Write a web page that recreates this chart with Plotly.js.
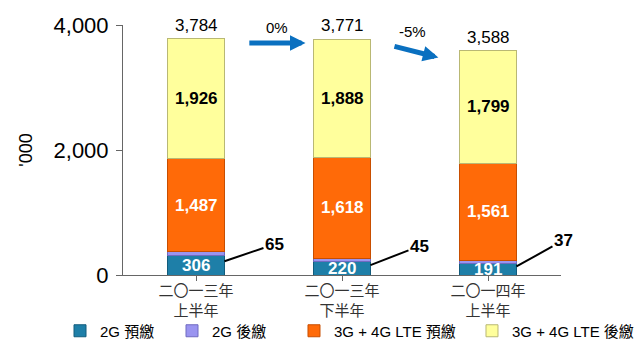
<!DOCTYPE html>
<html>
<head>
<meta charset="utf-8">
<script src="https://cdn.plot.ly/plotly-3.0.1.min.js"></script>
<style>html,body{margin:0;padding:0;background:#fff;}#chart{width:635px;height:341px;}</style>
</head>
<body>
<div id="chart"></div>
<script>
const categories = ['二〇一三年<br>上半年', '二〇一三年<br>下半年', '二〇一四年<br>上半年'];
const seriesNames = ['2G 預繳', '2G 後繳', '3G + 4G LTE 預繳', '3G + 4G LTE 後繳'];
const prepaid2G = [306, 220, 191];
const postpaid2G = [65, 45, 37];
const prepaid3G4G = [1487, 1618, 1561];
const postpaid3G4G = [1926, 1888, 1799];
const totals = [3784, 3771, 3588];
const changeLabels = ['0%', '-5%'];
const yTicks = [0, 2000, 4000];

const FONT = 'Liberation Sans, Arial, Noto Sans CJK TC, sans-serif';
const BAR_W = 0.39;
const xIdx = [0, 1, 2];

const colors = ['#1E7FA8', '#9A94F0', '#FF6A08', '#FFFF9C'];
const lineColors = ['#125C7C', '#6F6AC0', '#C84E00', '#B9B874'];
const allSeries = [prepaid2G, postpaid2G, prepaid3G4G, postpaid3G4G];
const legendIds = ['legend', 'legend2', 'legend3', 'legend4'];
const legendX = [-0.1438, 0.1119, 0.3904, 0.7968];

const traces = allSeries.map((vals, k) => ({
  type: 'bar',
  name: seriesNames[k],
  legend: legendIds[k],
  x: xIdx,
  y: vals,
  width: BAR_W,
  marker: {color: colors[k], line: {color: lineColors[k], width: 1}},
  hoverinfo: 'skip'
}));

const fmt = v => v.toLocaleString('en-US');
const annotations = [];

// totals
totals.forEach((t, i) => annotations.push({
  x: i, y: t, xref: 'x', yref: 'y', text: fmt(t), showarrow: false,
  yanchor: 'bottom', yshift: 2, font: {family: FONT, size: 17, color: '#000'}
}));

// inner labels
xIdx.forEach(i => {
  const base2 = prepaid2G[i] + postpaid2G[i];
  annotations.push({x: i, y: prepaid2G[i] / 2, xref: 'x', yref: 'y', text: '<b>' + fmt(prepaid2G[i]) + '</b>',
    showarrow: false, font: {family: FONT, size: 17, color: '#fff'}});
  annotations.push({x: i, y: base2 + prepaid3G4G[i] / 2, xref: 'x', yref: 'y', text: '<b>' + fmt(prepaid3G4G[i]) + '</b>',
    showarrow: false, font: {family: FONT, size: 17, color: '#fff'}});
  annotations.push({x: i, y: base2 + prepaid3G4G[i] + postpaid3G4G[i] / 2, xref: 'x', yref: 'y', text: '<b>' + fmt(postpaid3G4G[i]) + '</b>',
    showarrow: false, font: {family: FONT, size: 17, color: '#000'}});
});

// 2G postpaid callouts
const callOff = [[50, -17], [49, -19], [47, -26]];
xIdx.forEach(i => {
  annotations.push({x: i + BAR_W / 2, y: prepaid2G[i] * 0.72, xref: 'x', yref: 'y',
    text: '<b>' + fmt(postpaid2G[i]) + '</b>', showarrow: true, arrowhead: 0, arrowwidth: 2, arrowcolor: '#000',
    ax: callOff[i][0], ay: callOff[i][1], standoff: 0,
    font: {family: FONT, size: 17, color: '#000'}});
});

// change arrows
const arrowDefs = [
  {tx: 0.355, ty: 3712, hx: 0.75, hy: 3712, lx: 0.555, ly: 3968},
  {tx: 1.349, ty: 3664, hx: 1.66, hy: 3480, lx: 1.48, ly: 3904}
];
arrowDefs.forEach((a, k) => {
  annotations.push({x: a.hx, y: a.hy, ax: a.tx, ay: a.ty, xref: 'x', yref: 'y', axref: 'x', ayref: 'y',
    text: '', showarrow: true, arrowhead: 2, arrowsize: 0.62, arrowwidth: 5, arrowcolor: '#0A70C0', standoff: 0});
  annotations.push({x: a.lx, y: a.ly, xref: 'x', yref: 'y', text: changeLabels[k], showarrow: false,
    font: {family: FONT, size: 15, color: '#000'}});
});

const layout = {
  width: 635, height: 341,
  margin: {l: 123, r: 74, t: 25, b: 66, autoexpand: false},
  paper_bgcolor: '#fff', plot_bgcolor: '#fff',
  barmode: 'stack',
  showlegend: true,
  xaxis: {
    range: [-0.5, 2.5], tickvals: xIdx, ticktext: categories, tickson: 'boundaries',
    ticks: 'outside', ticklen: 5, tickcolor: '#666', showline: true, linecolor: '#666', linewidth: 1,
    showgrid: false, zeroline: false, fixedrange: true, automargin: false, ticklabelstandoff: -3,
    tickfont: {family: FONT, size: 15, color: '#333'}
  },
  yaxis: {
    range: [0, 4000], tickvals: yTicks, ticktext: yTicks.map(fmt),
    ticks: 'outside', ticklen: 6, tickcolor: '#666', showline: true, linecolor: '#666', linewidth: 1,
    showgrid: false, zeroline: false, fixedrange: true, automargin: false, ticklabelstandoff: 3,
    tickfont: {family: FONT, size: 22, color: '#000'},
    title: {text: "'000", font: {family: FONT, size: 18, color: '#000'}, standoff: 16}
  },
  annotations: annotations
};
legendIds.forEach((id, k) => {
  layout[id] = {orientation: 'h', x: legendX[k], xanchor: 'left', y: -0.224, yanchor: 'middle',
    bgcolor: 'rgba(0,0,0,0)', font: {family: FONT, size: 15, color: '#000'}, itemwidth: 30};
});

Plotly.newPlot('chart', traces, layout, {staticPlot: true, displayModeBar: false});
</script>
</body>
</html>
